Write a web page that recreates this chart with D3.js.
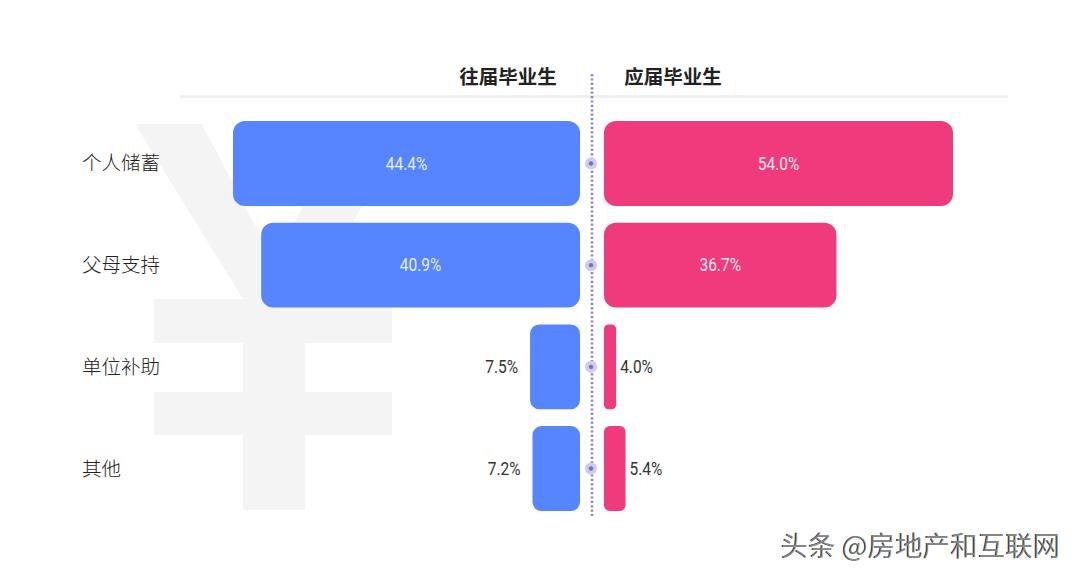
<!DOCTYPE html>
<html><head><meta charset="utf-8">
<script src="https://cdn.jsdelivr.net/npm/d3@7"></script>
<style>
html,body{margin:0;padding:0;background:#fff;}
svg{display:block;}
</style></head>
<body>
<svg id="chart" width="1080" height="576"></svg>
<script>
const categories = ["个人储蓄", "父母支持", "单位补助", "其他"];
const seriesNames = ["往届毕业生", "应届毕业生"];
const pastGrads = [44.4, 40.9, 7.5, 7.2];
const freshGrads = [54.0, 36.7, 4.0, 5.4];
const watermark = "头条 @房地产和互联网";

const svg = d3.select("#chart");
const centerX = 592;
const leftEdge = 580, rightEdge = 604;

// background yen watermark
const yen = svg.append("g").attr("fill", "#f4f4f4");
yen.append("path").attr("d",
  "M135,124 L202,124 L274,262 L346,124 L413,124 L305,299 L305,510 L243,510 L243,299 Z");
yen.append("rect").attr("x",154).attr("y",299).attr("width",238).attr("height",44);
yen.append("rect").attr("x",154).attr("y",392).attr("width",238).attr("height",43);

// header line
svg.append("rect").attr("x",180).attr("y",95).attr("width",828).attr("height",3).attr("fill","#f0f0f2");

const y = d3.scaleBand().domain(categories).range([112.6, 519.4]).paddingInner(0.165).paddingOuter(0.0825);
const xL = d3.scaleLinear().domain([1.3, 44.4]).range([0, 347]);
const xR = d3.scaleLinear().domain([2.2, 54.0]).range([0, 349]);

// headers
svg.append("text").attr("x", 508).attr("y", 84).attr("text-anchor","middle")
  .attr("font-family","'Noto Sans CJK SC'").attr("font-weight","bold").attr("font-size",19.5)
  .attr("fill","#222").text(seriesNames[0]);
svg.append("text").attr("x", 673).attr("y", 84).attr("text-anchor","middle")
  .attr("font-family","'Noto Sans CJK SC'").attr("font-weight","bold").attr("font-size",19.5)
  .attr("fill","#222").text(seriesNames[1]);

// dotted center line
svg.append("line").attr("x1",centerX).attr("x2",centerX).attr("y1",74).attr("y2",516)
  .attr("stroke","#8d82c4").attr("stroke-width",2.5).attr("stroke-dasharray","2.2,2.2");

const rxOf = w => Math.min(12, 3 + w / 8);

function valueLabel(x, yPos, anchor, fill, txt) {
  svg.append("text")
    .attr("transform", `translate(${x},${yPos}) scale(0.86,1)`)
    .attr("dy","0.35em")
    .attr("text-anchor", anchor)
    .attr("font-family", "Roboto, sans-serif").attr("font-weight", 400).attr("font-size",18)
    .attr("fill", fill).text(txt);
}

categories.forEach((c, i) => {
  const top = y(c), h = y.bandwidth(), cy = top + h / 2;
  // category label
  svg.append("text").attr("x", 82).attr("y", cy).attr("dy","0.36em")
    .attr("font-family","'Noto Sans CJK SC'").attr("font-weight",300).attr("font-size",19.5).attr("fill","#222").text(c);

  // left bar
  const wl = xL(pastGrads[i]);
  svg.append("rect").attr("x", leftEdge - wl).attr("y", top).attr("width", wl).attr("height", h)
    .attr("rx", rxOf(wl)).attr("fill", "#5785ff");
  const big = wl > 120;
  valueLabel(big ? leftEdge - wl / 2 : leftEdge - wl - 12, cy, big ? "middle" : "end",
    big ? "#e9efff" : "#333", pastGrads[i].toFixed(1) + "%");

  // right bar
  const wr = xR(freshGrads[i]);
  svg.append("rect").attr("x", rightEdge).attr("y", top).attr("width", wr).attr("height", h)
    .attr("rx", rxOf(wr)).attr("fill", "#ef3a7b");
  const bigR = wr > 120;
  valueLabel(bigR ? rightEdge + wr / 2 : rightEdge + wr + 4, cy, bigR ? "middle" : "start",
    bigR ? "#fde9f1" : "#333", freshGrads[i].toFixed(1) + "%");

  // center dot
  svg.append("circle").attr("cx", centerX - 1).attr("cy", cy).attr("r", 6).attr("fill", "#cfcbee");
  svg.append("circle").attr("cx", centerX - 1).attr("cy", cy).attr("r", 2.2).attr("fill", "#7d72b8");
});

// watermark
svg.append("text").attr("x", 1060).attr("y", 556).attr("text-anchor","end")
  .attr("font-family","'Noto Sans CJK SC'").attr("font-size",27.5).attr("fill","#222")
  .text(watermark);
svg.append("text").attr("x", 1061).attr("y", 556).attr("text-anchor","end")
  .attr("font-family","'Noto Sans CJK SC'").attr("font-size",27.5).attr("fill","#fff").attr("opacity",0.45)
  .text(watermark);
</script>
</body></html>
